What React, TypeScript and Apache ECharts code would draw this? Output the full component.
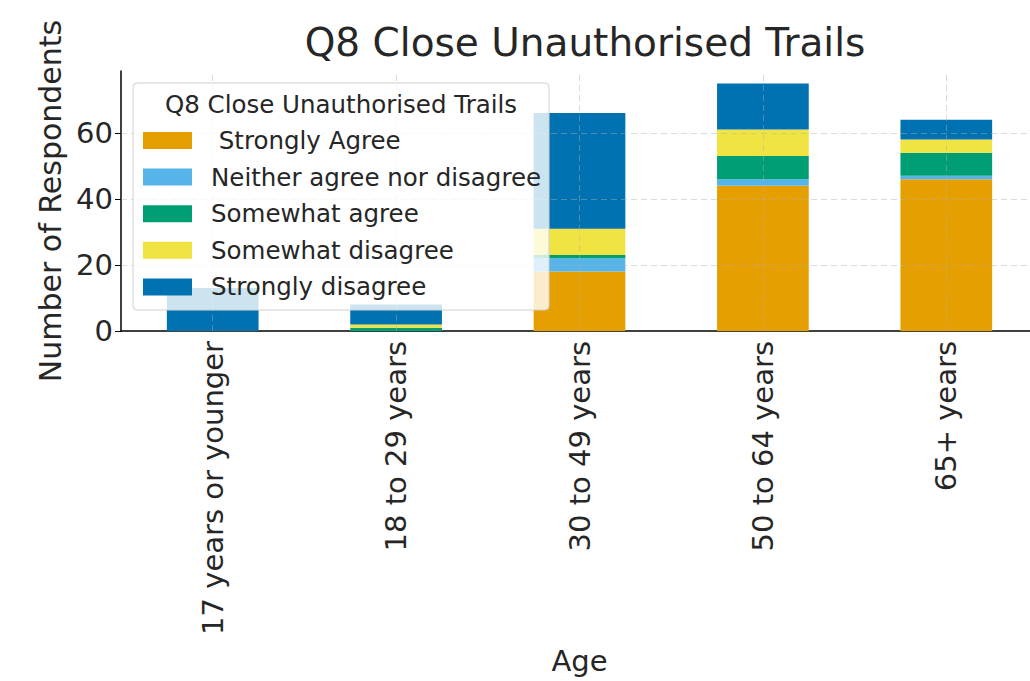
import React, { useEffect, useRef } from "react";
import * as echarts from "echarts";

const categories = ["17 years or younger", "18 to 29 years", "30 to 49 years", "50 to 64 years", "65+ years"];
const seriesNames = [" Strongly Agree", "Neither agree nor disagree", "Somewhat agree", "Somewhat disagree", "Strongly disagree"];
const stronglyAgree = [0, 0, 18, 44, 46];
const neitherAgree = [0, 0, 4, 2, 1];
const somewhatAgree = [0, 1, 1, 7, 7];
const somewhatDisagree = [0, 1, 8, 8, 4];
const stronglyDisagree = [13, 6, 35, 14, 6];
const seriesValues = [stronglyAgree, neitherAgree, somewhatAgree, somewhatDisagree, stronglyDisagree];
const colors = ["#E69F00", "#56B4E9", "#009E73", "#F0E442", "#0072B2"];
const yTicks = [0, 20, 40, 60];
const chartTitle = "Q8 Close Unauthorised Trails";
const legendTitle = "Q8 Close Unauthorised Trails";
const xName = "Age";
const yName = "Number of Respondents";

const FONT = "DejaVu Sans";
const TEXT = "#262626";

export default function App() {
  const ref = useRef<HTMLDivElement>(null);
  useEffect(() => {
    if (!ref.current) return;
    const chart = echarts.init(ref.current, undefined, { renderer: "svg" });
    const totals = categories.map((_, i) => seriesValues.reduce((s, arr) => s + arr[i], 0));
    const yMax = Math.max(...totals) * 1.05;
    const gridLine = { color: "#b0b0b0", type: [6, 4] as any, width: 1, opacity: 0.45 };
    const series: any[] = seriesNames.map((name, k) => ({
      name,
      type: "bar",
      stack: "total",
      barWidth: "50%",
      data: seriesValues[k],
      itemStyle: { color: colors[k] },
      emphasis: { disabled: true },
    }));
    series[series.length - 1].markLine = {
      silent: true,
      symbol: ["none", "none"],
      label: { show: false },
      lineStyle: gridLine,
      z: 3,
      data: [
        ...yTicks.filter((t) => t > 0).map((t) => ({ yAxis: t })),
        ...categories.map((c) => ({ xAxis: c })),
      ],
    };
    chart.setOption({
      animation: false,
      backgroundColor: "#ffffff",
      textStyle: { fontFamily: FONT },
      title: {
        text: chartTitle,
        left: 580,
        textAlign: "center",
        top: 18,
        textStyle: { fontFamily: FONT, fontSize: 39, fontWeight: "normal", color: TEXT },
      },
      grid: { left: 121, top: 71, width: 917, height: 260 },
      xAxis: {
        type: "category",
        data: categories,
        name: xName,
        nameLocation: "middle",
        nameGap: 315,
        nameTextStyle: { fontFamily: FONT, fontSize: 29, color: TEXT },
        axisLine: { lineStyle: { color: "#000", width: 1.5 } },
        axisTick: { alignWithLabel: true, length: 6, lineStyle: { color: "#000" } },
        axisLabel: { rotate: 90, fontFamily: FONT, fontSize: 29, color: TEXT, margin: 10 },
        splitLine: { show: false },
      },
      yAxis: {
        type: "value",
        min: 0,
        max: yMax,
        interval: 20,
        name: yName,
        nameLocation: "middle",
        nameGap: 54,
        nameTextStyle: { fontFamily: FONT, fontSize: 30, color: TEXT },
        axisLine: { show: true, lineStyle: { color: "#000", width: 1.5 } },
        axisTick: { show: true, length: 6, lineStyle: { color: "#000" } },
        axisLabel: {
          fontFamily: FONT,
          fontSize: 29,
          color: TEXT,
          margin: 8,
          showMaxLabel: false,
          formatter: (v: number) => (yTicks.includes(v) ? String(v) : ""),
        },
        splitLine: { show: false },
      },
      legend: {
        orient: "vertical",
        left: 143,
        top: 128,
        padding: 0,
        itemWidth: 49,
        itemHeight: 17,
        itemGap: 11.6,
        icon: "rect",
        z: 5,
        selectedMode: false,
        data: seriesNames,
        textStyle: { fontFamily: FONT, fontSize: 24.5, color: TEXT, padding: [0, 0, 0, 14] },
      },
      graphic: [
        {
          type: "rect",
          z: 4,
          shape: { x: 133, y: 83, width: 416, height: 227, r: 4 },
          style: { fill: "rgba(255,255,255,0.8)", stroke: "#d0d0d0", lineWidth: 1 },
        },
        {
          type: "text",
          z: 6,
          x: 341,
          y: 104,
          style: {
            text: legendTitle,
            fontFamily: FONT,
            fontSize: 24.5,
            fill: TEXT,
            align: "center",
            verticalAlign: "middle",
          },
        },
      ],
      series,
    });
    return () => chart.dispose();
  }, []);
  return (
    <div style={{ position: "fixed", left: 0, top: 0, width: 1030, height: 681, overflow: "hidden", background: "#fff" }}>
      <div ref={ref} style={{ width: 1045, height: 681 }} />
    </div>
  );
}
